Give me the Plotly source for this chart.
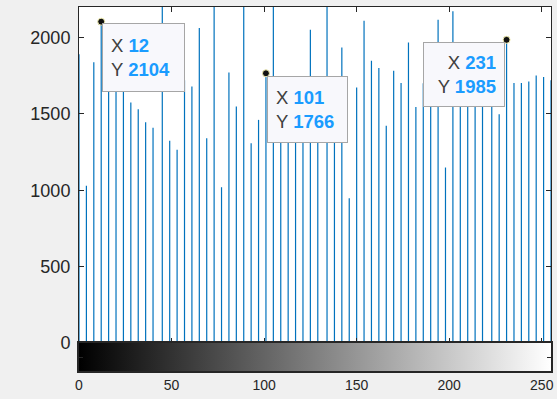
import plotly.graph_objects as go

# Gray levels holding counts (64-bin equalized histogram)
gray_levels = [0, 4, 8, 12, 16, 20, 24, 28, 32, 36,
               40, 45, 49, 53, 57, 61, 65, 69, 73, 77,
               81, 85, 89, 93, 97, 101, 105, 109, 113, 117,
               121, 125, 129, 134, 138, 142, 146, 150, 154, 158,
               162, 166, 170, 174, 178, 182, 186, 190, 194, 198,
               202, 206, 210, 214, 218, 223, 227, 231, 235, 239,
               243, 247, 251, 255]
counts = [1890, 1029, 1839, 2104, 1830, 1760, 1690, 1575, 1531, 1446,
          1409, 2380, 1324, 1265, 1720, 1680, 2062, 1341, 2450, 1020,
          1771, 1549, 2400, 1308, 1461, 1766, 2350, 1500, 1450, 1600,
          1400, 2051, 1550, 2300, 1500, 1935, 948, 1673, 2110, 1848,
          1800, 1422, 1782, 1702, 1968, 1545, 1700, 1650, 2117, 1149,
          2172, 1750, 1700, 1650, 1700, 1600, 1498, 1985, 1702, 1702,
          1712, 1752, 1741, 1721]

y_ticks = [0, 500, 1000, 1500, 2000]
x_ticks = [0, 50, 100, 150, 200, 250]

tip_x = [12, 101, 231]
tip_y = [2104, 1766, 1985]

STEM = "#0072BD"
AX = "#262626"
FONT = "Liberation Sans, Arial, Helvetica, sans-serif"

sx, sy = [], []
for g, c in zip(gray_levels, counts):
    sx += [g, g, None]
    sy += [0, c, None]

fig = go.Figure()
fig.add_trace(go.Scatter(x=sx, y=sy, mode="lines",
                         line=dict(color=STEM, width=1.2),
                         xaxis="x", yaxis="y", hoverinfo="skip"))

# grayscale colorbar strip
fig.add_trace(go.Scatter(x=[0, 255, 255, 0, 0], y=[0, 0, 1, 1, 0],
                         mode="lines", line=dict(width=0),
                         fill="toself",
                         fillgradient=dict(type="horizontal",
                                           colorscale=[[0, "black"], [1, "white"]]),
                         xaxis="x2", yaxis="y2", hoverinfo="skip"))

# data tip markers
fig.add_trace(go.Scatter(x=tip_x, y=tip_y, mode="markers",
                         marker=dict(size=7, color="#111111",
                                     line=dict(color="#f2eeb0", width=1)),
                         cliponaxis=False, xaxis="x", yaxis="y", hoverinfo="skip"))

def tip_text(xv, yv):
    return ("<span style='color:#404040'>X</span> <b><span style='color:#1a9cff'>%d</span></b><br>"
            "<span style='color:#404040'>Y</span> <b><span style='color:#1a9cff'>%d</span></b>") % (xv, yv)

tip_cfg = [
    dict(xanchor="left", xshift=1, yshift=-1.5, width=65, height=51, align="left"),
    dict(xanchor="left", xshift=1.5, yshift=-2.5, width=63, height=49, align="left"),
    dict(xanchor="right", xshift=-2, yshift=-2, width=64, height=47, align="right"),
]
for xv, yv, cfg in zip(tip_x, tip_y, tip_cfg):
    fig.add_annotation(x=xv, y=yv, xref="x", yref="y", text=tip_text(xv, yv),
                       showarrow=False, yanchor="top", valign="middle",
                       bgcolor="#f8f8fc", bordercolor="#a6a6a6", borderwidth=1,
                       borderpad=8, font=dict(family=FONT, size=18.5, color="#404040"),
                       **cfg)

fig.update_layout(
    width=557, height=399,
    margin=dict(l=79, r=6, t=7, b=28, autoexpand=False),
    paper_bgcolor="#f0f0f0",
    plot_bgcolor="white",
    showlegend=False,
    font=dict(family=FONT, color=AX),
    xaxis=dict(domain=[0, 1], range=[0, 255], anchor="y", automargin=False,
               tickvals=x_ticks, showticklabels=False,
               ticks="inside", ticklen=5, tickcolor=AX,
               showline=True, linecolor=AX, linewidth=1, mirror="ticks",
               showgrid=False, zeroline=False),
    yaxis=dict(domain=[28 / 364, 1], range=[0, 2200], anchor="x", automargin=False,
               tickvals=y_ticks, ticks="inside", ticklen=5, tickcolor=AX,
               showline=True, linecolor=AX, linewidth=1, mirror="ticks",
               showgrid=False, zeroline=False,
               tickfont=dict(size=18, color=AX), ticklabelstandoff=4),
    xaxis2=dict(domain=[0, 1], range=[0, 255], anchor="y2", automargin=False,
                tickvals=x_ticks, ticks="", showline=True, linecolor=AX,
                linewidth=1.5, mirror=True, showgrid=False, zeroline=False,
                tickfont=dict(size=14, color=AX)),
    yaxis2=dict(domain=[0, 28 / 364], range=[0, 1], anchor="x2", automargin=False,
                tickvals=[0.5], showticklabels=False, ticks="inside",
                ticklen=4, tickcolor=AX, showline=True, linecolor=AX,
                linewidth=1.5, mirror="ticks", showgrid=False, zeroline=False),
)

fig.write_html("out.html", config={"displayModeBar": False},
               post_script="document.body.style.margin='0';document.body.style.padding='0';")
